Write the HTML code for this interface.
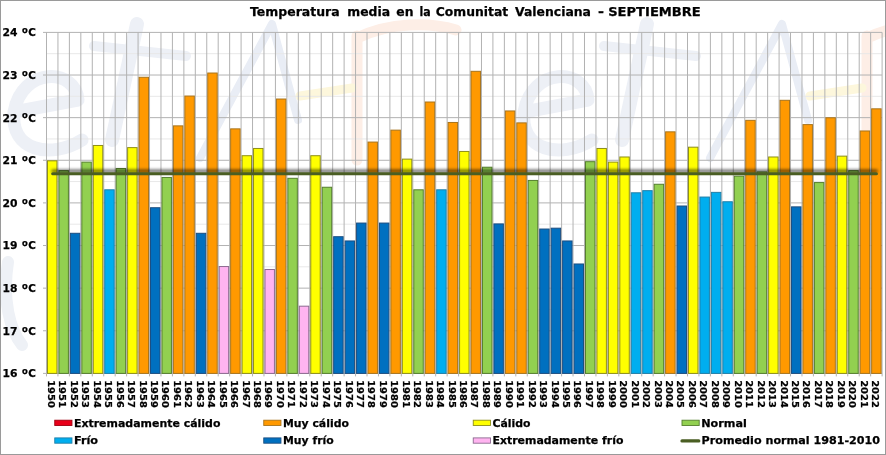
<!DOCTYPE html>
<html lang="es"><head><meta charset="utf-8"><title>Temperatura media en la Comunitat Valenciana - SEPTIEMBRE</title>
<style>html,body{margin:0;padding:0;background:#fff}svg{display:block}text{font-family:"DejaVu Sans","Liberation Sans",sans-serif;font-weight:bold;fill:#000;stroke:#000;stroke-width:0.25px}</style></head><body>
<svg width="886" height="455" viewBox="0 0 886 455">
<defs><filter id="sh" filterUnits="userSpaceOnUse" x="30" y="150" width="870" height="50"><feGaussianBlur stdDeviation="1.4"/></filter></defs>
<rect x="0" y="0" width="886" height="455" fill="#fff"/>
<defs><g id="wm" fill="none" stroke-linecap="round" stroke-linejoin="round"><path d="M14 112 L78 100 C76 68 22 66 14 112 C10 150 50 160 82 140" stroke="#edf0f6" stroke-width="13"/><path d="M137 24 L112 140" stroke="#edf0f6" stroke-width="14"/><path d="M94 46 L186 56" stroke="#edf0f6" stroke-width="10"/><path d="M200 158 L272 24 L298 120" stroke="#e9edf5" stroke-width="8"/><path d="M357 36 L357 160 M357 38 C390 22 430 22 456 30" stroke="#fdeee6" stroke-width="11"/><path d="M300 96 L352 88" stroke="#fdf7dc" stroke-width="9"/></g></defs><use href="#wm"/><use href="#wm" x="510"/><path d="M8 262 C2 300 10 330 22 345" fill="none" stroke="#eef1f6" stroke-width="12" stroke-linecap="round"/>
<rect x="0.5" y="0.5" width="885" height="454" fill="none" stroke="#9a9a9a" stroke-width="1"/>
<g><line x1="46.50" x2="882.10" y1="352.09" y2="352.09" stroke="#e8e8e8" stroke-width="1"/><line x1="46.50" x2="882.10" y1="309.46" y2="309.46" stroke="#e8e8e8" stroke-width="1"/><line x1="46.50" x2="882.10" y1="266.84" y2="266.84" stroke="#e8e8e8" stroke-width="1"/><line x1="46.50" x2="882.10" y1="224.21" y2="224.21" stroke="#e8e8e8" stroke-width="1"/><line x1="46.50" x2="882.10" y1="181.59" y2="181.59" stroke="#e8e8e8" stroke-width="1"/><line x1="46.50" x2="882.10" y1="138.96" y2="138.96" stroke="#e8e8e8" stroke-width="1"/><line x1="46.50" x2="882.10" y1="96.34" y2="96.34" stroke="#e8e8e8" stroke-width="1"/><line x1="46.50" x2="882.10" y1="53.71" y2="53.71" stroke="#e8e8e8" stroke-width="1"/><line x1="46.50" x2="46.50" y1="32.40" y2="376.40" stroke="#b2b2b2" stroke-width="1"/><line x1="57.95" x2="57.95" y1="32.40" y2="376.40" stroke="#b2b2b2" stroke-width="1"/><line x1="69.39" x2="69.39" y1="32.40" y2="376.40" stroke="#b2b2b2" stroke-width="1"/><line x1="80.84" x2="80.84" y1="32.40" y2="376.40" stroke="#b2b2b2" stroke-width="1"/><line x1="92.29" x2="92.29" y1="32.40" y2="376.40" stroke="#b2b2b2" stroke-width="1"/><line x1="103.73" x2="103.73" y1="32.40" y2="376.40" stroke="#b2b2b2" stroke-width="1"/><line x1="115.18" x2="115.18" y1="32.40" y2="376.40" stroke="#b2b2b2" stroke-width="1"/><line x1="126.63" x2="126.63" y1="32.40" y2="376.40" stroke="#b2b2b2" stroke-width="1"/><line x1="138.07" x2="138.07" y1="32.40" y2="376.40" stroke="#b2b2b2" stroke-width="1"/><line x1="149.52" x2="149.52" y1="32.40" y2="376.40" stroke="#b2b2b2" stroke-width="1"/><line x1="160.97" x2="160.97" y1="32.40" y2="376.40" stroke="#b2b2b2" stroke-width="1"/><line x1="172.41" x2="172.41" y1="32.40" y2="376.40" stroke="#b2b2b2" stroke-width="1"/><line x1="183.86" x2="183.86" y1="32.40" y2="376.40" stroke="#b2b2b2" stroke-width="1"/><line x1="195.31" x2="195.31" y1="32.40" y2="376.40" stroke="#b2b2b2" stroke-width="1"/><line x1="206.75" x2="206.75" y1="32.40" y2="376.40" stroke="#b2b2b2" stroke-width="1"/><line x1="218.20" x2="218.20" y1="32.40" y2="376.40" stroke="#b2b2b2" stroke-width="1"/><line x1="229.65" x2="229.65" y1="32.40" y2="376.40" stroke="#b2b2b2" stroke-width="1"/><line x1="241.09" x2="241.09" y1="32.40" y2="376.40" stroke="#b2b2b2" stroke-width="1"/><line x1="252.54" x2="252.54" y1="32.40" y2="376.40" stroke="#b2b2b2" stroke-width="1"/><line x1="263.98" x2="263.98" y1="32.40" y2="376.40" stroke="#b2b2b2" stroke-width="1"/><line x1="275.43" x2="275.43" y1="32.40" y2="376.40" stroke="#b2b2b2" stroke-width="1"/><line x1="286.88" x2="286.88" y1="32.40" y2="376.40" stroke="#b2b2b2" stroke-width="1"/><line x1="298.32" x2="298.32" y1="32.40" y2="376.40" stroke="#b2b2b2" stroke-width="1"/><line x1="309.77" x2="309.77" y1="32.40" y2="376.40" stroke="#b2b2b2" stroke-width="1"/><line x1="321.22" x2="321.22" y1="32.40" y2="376.40" stroke="#b2b2b2" stroke-width="1"/><line x1="332.66" x2="332.66" y1="32.40" y2="376.40" stroke="#b2b2b2" stroke-width="1"/><line x1="344.11" x2="344.11" y1="32.40" y2="376.40" stroke="#b2b2b2" stroke-width="1"/><line x1="355.56" x2="355.56" y1="32.40" y2="376.40" stroke="#b2b2b2" stroke-width="1"/><line x1="367.00" x2="367.00" y1="32.40" y2="376.40" stroke="#b2b2b2" stroke-width="1"/><line x1="378.45" x2="378.45" y1="32.40" y2="376.40" stroke="#b2b2b2" stroke-width="1"/><line x1="389.90" x2="389.90" y1="32.40" y2="376.40" stroke="#b2b2b2" stroke-width="1"/><line x1="401.34" x2="401.34" y1="32.40" y2="376.40" stroke="#b2b2b2" stroke-width="1"/><line x1="412.79" x2="412.79" y1="32.40" y2="376.40" stroke="#b2b2b2" stroke-width="1"/><line x1="424.24" x2="424.24" y1="32.40" y2="376.40" stroke="#b2b2b2" stroke-width="1"/><line x1="435.68" x2="435.68" y1="32.40" y2="376.40" stroke="#b2b2b2" stroke-width="1"/><line x1="447.13" x2="447.13" y1="32.40" y2="376.40" stroke="#b2b2b2" stroke-width="1"/><line x1="458.58" x2="458.58" y1="32.40" y2="376.40" stroke="#b2b2b2" stroke-width="1"/><line x1="470.02" x2="470.02" y1="32.40" y2="376.40" stroke="#b2b2b2" stroke-width="1"/><line x1="481.47" x2="481.47" y1="32.40" y2="376.40" stroke="#b2b2b2" stroke-width="1"/><line x1="492.92" x2="492.92" y1="32.40" y2="376.40" stroke="#b2b2b2" stroke-width="1"/><line x1="504.36" x2="504.36" y1="32.40" y2="376.40" stroke="#b2b2b2" stroke-width="1"/><line x1="515.81" x2="515.81" y1="32.40" y2="376.40" stroke="#b2b2b2" stroke-width="1"/><line x1="527.26" x2="527.26" y1="32.40" y2="376.40" stroke="#b2b2b2" stroke-width="1"/><line x1="538.70" x2="538.70" y1="32.40" y2="376.40" stroke="#b2b2b2" stroke-width="1"/><line x1="550.15" x2="550.15" y1="32.40" y2="376.40" stroke="#b2b2b2" stroke-width="1"/><line x1="561.60" x2="561.60" y1="32.40" y2="376.40" stroke="#b2b2b2" stroke-width="1"/><line x1="573.04" x2="573.04" y1="32.40" y2="376.40" stroke="#b2b2b2" stroke-width="1"/><line x1="584.49" x2="584.49" y1="32.40" y2="376.40" stroke="#b2b2b2" stroke-width="1"/><line x1="595.94" x2="595.94" y1="32.40" y2="376.40" stroke="#b2b2b2" stroke-width="1"/><line x1="607.38" x2="607.38" y1="32.40" y2="376.40" stroke="#b2b2b2" stroke-width="1"/><line x1="618.83" x2="618.83" y1="32.40" y2="376.40" stroke="#b2b2b2" stroke-width="1"/><line x1="630.28" x2="630.28" y1="32.40" y2="376.40" stroke="#b2b2b2" stroke-width="1"/><line x1="641.72" x2="641.72" y1="32.40" y2="376.40" stroke="#b2b2b2" stroke-width="1"/><line x1="653.17" x2="653.17" y1="32.40" y2="376.40" stroke="#b2b2b2" stroke-width="1"/><line x1="664.62" x2="664.62" y1="32.40" y2="376.40" stroke="#b2b2b2" stroke-width="1"/><line x1="676.06" x2="676.06" y1="32.40" y2="376.40" stroke="#b2b2b2" stroke-width="1"/><line x1="687.51" x2="687.51" y1="32.40" y2="376.40" stroke="#b2b2b2" stroke-width="1"/><line x1="698.95" x2="698.95" y1="32.40" y2="376.40" stroke="#b2b2b2" stroke-width="1"/><line x1="710.40" x2="710.40" y1="32.40" y2="376.40" stroke="#b2b2b2" stroke-width="1"/><line x1="721.85" x2="721.85" y1="32.40" y2="376.40" stroke="#b2b2b2" stroke-width="1"/><line x1="733.29" x2="733.29" y1="32.40" y2="376.40" stroke="#b2b2b2" stroke-width="1"/><line x1="744.74" x2="744.74" y1="32.40" y2="376.40" stroke="#b2b2b2" stroke-width="1"/><line x1="756.19" x2="756.19" y1="32.40" y2="376.40" stroke="#b2b2b2" stroke-width="1"/><line x1="767.63" x2="767.63" y1="32.40" y2="376.40" stroke="#b2b2b2" stroke-width="1"/><line x1="779.08" x2="779.08" y1="32.40" y2="376.40" stroke="#b2b2b2" stroke-width="1"/><line x1="790.53" x2="790.53" y1="32.40" y2="376.40" stroke="#b2b2b2" stroke-width="1"/><line x1="801.97" x2="801.97" y1="32.40" y2="376.40" stroke="#b2b2b2" stroke-width="1"/><line x1="813.42" x2="813.42" y1="32.40" y2="376.40" stroke="#b2b2b2" stroke-width="1"/><line x1="824.87" x2="824.87" y1="32.40" y2="376.40" stroke="#b2b2b2" stroke-width="1"/><line x1="836.31" x2="836.31" y1="32.40" y2="376.40" stroke="#b2b2b2" stroke-width="1"/><line x1="847.76" x2="847.76" y1="32.40" y2="376.40" stroke="#b2b2b2" stroke-width="1"/><line x1="859.21" x2="859.21" y1="32.40" y2="376.40" stroke="#b2b2b2" stroke-width="1"/><line x1="870.65" x2="870.65" y1="32.40" y2="376.40" stroke="#b2b2b2" stroke-width="1"/><line x1="882.10" x2="882.10" y1="32.40" y2="376.40" stroke="#b2b2b2" stroke-width="1"/><line x1="43.00" x2="882.10" y1="373.40" y2="373.40" stroke="#b2b2b2" stroke-width="1"/><line x1="43.00" x2="882.10" y1="330.77" y2="330.77" stroke="#b2b2b2" stroke-width="1"/><line x1="43.00" x2="882.10" y1="288.15" y2="288.15" stroke="#b2b2b2" stroke-width="1"/><line x1="43.00" x2="882.10" y1="245.52" y2="245.52" stroke="#b2b2b2" stroke-width="1"/><line x1="43.00" x2="882.10" y1="202.90" y2="202.90" stroke="#b2b2b2" stroke-width="1"/><line x1="43.00" x2="882.10" y1="160.27" y2="160.27" stroke="#b2b2b2" stroke-width="1"/><line x1="43.00" x2="882.10" y1="117.65" y2="117.65" stroke="#b2b2b2" stroke-width="1"/><line x1="43.00" x2="882.10" y1="75.02" y2="75.02" stroke="#b2b2b2" stroke-width="1"/><line x1="43.00" x2="882.10" y1="32.40" y2="32.40" stroke="#b2b2b2" stroke-width="1"/></g>
<g><rect x="47.50" y="160.83" width="9.45" height="212.57" fill="#FFFF00" stroke="#8E8E18" stroke-width="1"/><rect x="58.95" y="170.63" width="9.45" height="202.77" fill="#92D050" stroke="#557F2E" stroke-width="1"/><rect x="70.39" y="233.29" width="9.45" height="140.11" fill="#0070C0" stroke="#1C4E80" stroke-width="1"/><rect x="81.84" y="162.11" width="9.45" height="211.29" fill="#92D050" stroke="#557F2E" stroke-width="1"/><rect x="93.29" y="145.48" width="9.45" height="227.92" fill="#FFFF00" stroke="#8E8E18" stroke-width="1"/><rect x="104.73" y="189.81" width="9.45" height="183.59" fill="#00AEEF" stroke="#1F7FA8" stroke-width="1"/><rect x="116.18" y="168.50" width="9.45" height="204.90" fill="#92D050" stroke="#557F2E" stroke-width="1"/><rect x="127.63" y="147.61" width="9.45" height="225.79" fill="#FFFF00" stroke="#8E8E18" stroke-width="1"/><rect x="139.07" y="77.28" width="9.45" height="296.12" fill="#FF9900" stroke="#A8741C" stroke-width="1"/><rect x="150.52" y="207.72" width="9.45" height="165.68" fill="#0070C0" stroke="#1C4E80" stroke-width="1"/><rect x="161.97" y="177.45" width="9.45" height="195.95" fill="#92D050" stroke="#557F2E" stroke-width="1"/><rect x="173.41" y="125.87" width="9.45" height="247.53" fill="#FF9900" stroke="#A8741C" stroke-width="1"/><rect x="184.86" y="96.04" width="9.45" height="277.36" fill="#FF9900" stroke="#A8741C" stroke-width="1"/><rect x="196.31" y="233.29" width="9.45" height="140.11" fill="#0070C0" stroke="#1C4E80" stroke-width="1"/><rect x="207.75" y="73.02" width="9.45" height="300.38" fill="#FF9900" stroke="#A8741C" stroke-width="1"/><rect x="219.20" y="266.54" width="9.45" height="106.86" fill="#FFB4F0" stroke="#8C6A90" stroke-width="1"/><rect x="230.65" y="128.86" width="9.45" height="244.54" fill="#FF9900" stroke="#A8741C" stroke-width="1"/><rect x="242.09" y="155.71" width="9.45" height="217.69" fill="#FFFF00" stroke="#8E8E18" stroke-width="1"/><rect x="253.54" y="148.47" width="9.45" height="224.93" fill="#FFFF00" stroke="#8E8E18" stroke-width="1"/><rect x="264.98" y="269.52" width="9.45" height="103.88" fill="#FFB4F0" stroke="#8C6A90" stroke-width="1"/><rect x="276.43" y="99.02" width="9.45" height="274.38" fill="#FF9900" stroke="#A8741C" stroke-width="1"/><rect x="287.88" y="178.30" width="9.45" height="195.10" fill="#92D050" stroke="#557F2E" stroke-width="1"/><rect x="299.32" y="306.18" width="9.45" height="67.22" fill="#FFB4F0" stroke="#8C6A90" stroke-width="1"/><rect x="310.77" y="155.71" width="9.45" height="217.69" fill="#FFFF00" stroke="#8E8E18" stroke-width="1"/><rect x="322.22" y="187.25" width="9.45" height="186.14" fill="#92D050" stroke="#557F2E" stroke-width="1"/><rect x="333.66" y="236.70" width="9.45" height="136.70" fill="#0070C0" stroke="#1C4E80" stroke-width="1"/><rect x="345.11" y="240.96" width="9.45" height="132.44" fill="#0070C0" stroke="#1C4E80" stroke-width="1"/><rect x="356.56" y="223.06" width="9.45" height="150.34" fill="#0070C0" stroke="#1C4E80" stroke-width="1"/><rect x="368.00" y="142.07" width="9.45" height="231.33" fill="#FF9900" stroke="#A8741C" stroke-width="1"/><rect x="379.45" y="223.06" width="9.45" height="150.34" fill="#0070C0" stroke="#1C4E80" stroke-width="1"/><rect x="390.90" y="130.14" width="9.45" height="243.26" fill="#FF9900" stroke="#A8741C" stroke-width="1"/><rect x="402.34" y="159.12" width="9.45" height="214.28" fill="#FFFF00" stroke="#8E8E18" stroke-width="1"/><rect x="413.79" y="189.81" width="9.45" height="183.59" fill="#92D050" stroke="#557F2E" stroke-width="1"/><rect x="425.24" y="102.01" width="9.45" height="271.39" fill="#FF9900" stroke="#A8741C" stroke-width="1"/><rect x="436.68" y="189.81" width="9.45" height="183.59" fill="#00AEEF" stroke="#1F7FA8" stroke-width="1"/><rect x="448.13" y="122.47" width="9.45" height="250.93" fill="#FF9900" stroke="#A8741C" stroke-width="1"/><rect x="459.58" y="151.45" width="9.45" height="221.95" fill="#FFFF00" stroke="#8E8E18" stroke-width="1"/><rect x="471.02" y="71.32" width="9.45" height="302.08" fill="#FF9900" stroke="#A8741C" stroke-width="1"/><rect x="482.47" y="167.22" width="9.45" height="206.18" fill="#92D050" stroke="#557F2E" stroke-width="1"/><rect x="493.92" y="223.91" width="9.45" height="149.49" fill="#0070C0" stroke="#1C4E80" stroke-width="1"/><rect x="505.36" y="110.96" width="9.45" height="262.44" fill="#FF9900" stroke="#A8741C" stroke-width="1"/><rect x="516.81" y="122.89" width="9.45" height="250.51" fill="#FF9900" stroke="#A8741C" stroke-width="1"/><rect x="528.26" y="180.43" width="9.45" height="192.97" fill="#92D050" stroke="#557F2E" stroke-width="1"/><rect x="539.70" y="229.03" width="9.45" height="144.37" fill="#0070C0" stroke="#1C4E80" stroke-width="1"/><rect x="551.15" y="228.18" width="9.45" height="145.22" fill="#0070C0" stroke="#1C4E80" stroke-width="1"/><rect x="562.60" y="240.96" width="9.45" height="132.44" fill="#0070C0" stroke="#1C4E80" stroke-width="1"/><rect x="574.04" y="263.98" width="9.45" height="109.42" fill="#0070C0" stroke="#1C4E80" stroke-width="1"/><rect x="585.49" y="161.68" width="9.45" height="211.72" fill="#92D050" stroke="#557F2E" stroke-width="1"/><rect x="596.94" y="148.47" width="9.45" height="224.93" fill="#FFFF00" stroke="#8E8E18" stroke-width="1"/><rect x="608.38" y="162.11" width="9.45" height="211.29" fill="#FFFF00" stroke="#8E8E18" stroke-width="1"/><rect x="619.83" y="156.99" width="9.45" height="216.41" fill="#FFFF00" stroke="#8E8E18" stroke-width="1"/><rect x="631.28" y="192.80" width="9.45" height="180.60" fill="#00AEEF" stroke="#1F7FA8" stroke-width="1"/><rect x="642.72" y="190.66" width="9.45" height="182.74" fill="#00AEEF" stroke="#1F7FA8" stroke-width="1"/><rect x="654.17" y="184.27" width="9.45" height="189.13" fill="#92D050" stroke="#557F2E" stroke-width="1"/><rect x="665.62" y="131.84" width="9.45" height="241.56" fill="#FF9900" stroke="#A8741C" stroke-width="1"/><rect x="677.06" y="206.01" width="9.45" height="167.39" fill="#0070C0" stroke="#1C4E80" stroke-width="1"/><rect x="688.51" y="147.19" width="9.45" height="226.21" fill="#FFFF00" stroke="#8E8E18" stroke-width="1"/><rect x="699.95" y="197.06" width="9.45" height="176.34" fill="#00AEEF" stroke="#1F7FA8" stroke-width="1"/><rect x="711.40" y="192.37" width="9.45" height="181.03" fill="#00AEEF" stroke="#1F7FA8" stroke-width="1"/><rect x="722.85" y="201.75" width="9.45" height="171.65" fill="#00AEEF" stroke="#1F7FA8" stroke-width="1"/><rect x="734.29" y="176.17" width="9.45" height="197.23" fill="#92D050" stroke="#557F2E" stroke-width="1"/><rect x="745.74" y="120.33" width="9.45" height="253.07" fill="#FF9900" stroke="#A8741C" stroke-width="1"/><rect x="757.19" y="171.91" width="9.45" height="201.49" fill="#92D050" stroke="#557F2E" stroke-width="1"/><rect x="768.63" y="156.99" width="9.45" height="216.41" fill="#FFFF00" stroke="#8E8E18" stroke-width="1"/><rect x="780.08" y="100.30" width="9.45" height="273.10" fill="#FF9900" stroke="#A8741C" stroke-width="1"/><rect x="791.53" y="206.86" width="9.45" height="166.54" fill="#0070C0" stroke="#1C4E80" stroke-width="1"/><rect x="802.97" y="124.60" width="9.45" height="248.80" fill="#FF9900" stroke="#A8741C" stroke-width="1"/><rect x="814.42" y="182.57" width="9.45" height="190.83" fill="#92D050" stroke="#557F2E" stroke-width="1"/><rect x="825.87" y="117.78" width="9.45" height="255.62" fill="#FF9900" stroke="#A8741C" stroke-width="1"/><rect x="837.31" y="156.14" width="9.45" height="217.26" fill="#FFFF00" stroke="#8E8E18" stroke-width="1"/><rect x="848.76" y="170.63" width="9.45" height="202.77" fill="#92D050" stroke="#557F2E" stroke-width="1"/><rect x="860.21" y="130.99" width="9.45" height="242.41" fill="#FF9900" stroke="#A8741C" stroke-width="1"/><rect x="871.65" y="108.83" width="9.45" height="264.57" fill="#FF9900" stroke="#A8741C" stroke-width="1"/></g>
<line x1="52.72" x2="876.38" y1="171.10" y2="171.10" stroke="#000" stroke-opacity="0.6" stroke-width="3" stroke-linecap="round" filter="url(#sh)"/>
<line x1="52.72" x2="876.38" y1="173.70" y2="173.70" stroke="#4A5E23" stroke-width="3.1" stroke-linecap="round"/>
<text y="15.8" font-size="12.4"><tspan x="250.0" textLength="89.6" lengthAdjust="spacingAndGlyphs">Temperatura</tspan> <tspan x="347.3" textLength="42.8" lengthAdjust="spacingAndGlyphs">media</tspan> <tspan x="396.3" textLength="17.2" lengthAdjust="spacingAndGlyphs">en</tspan> <tspan x="419.4" textLength="11.2" lengthAdjust="spacingAndGlyphs">la</tspan> <tspan x="435.8" textLength="72.4" lengthAdjust="spacingAndGlyphs">Comunitat</tspan> <tspan x="515.0" textLength="76.0" lengthAdjust="spacingAndGlyphs">Valenciana</tspan> <tspan x="598.0" textLength="6.0" lengthAdjust="spacingAndGlyphs">-</tspan> <tspan x="608.2" textLength="92.6" lengthAdjust="spacingAndGlyphs">SEPTIEMBRE</tspan></text>
<text y="377.30" font-size="11.2"><tspan x="2.4" textLength="15" lengthAdjust="spacingAndGlyphs">16</tspan> <tspan x="22.0" dy="2.9" style="font-family:'Liberation Sans',sans-serif" font-size="15.5">º</tspan><tspan x="28.2" dy="-2.9" textLength="7.6" lengthAdjust="spacingAndGlyphs">C</tspan></text>
<text y="334.67" font-size="11.2"><tspan x="2.4" textLength="15" lengthAdjust="spacingAndGlyphs">17</tspan> <tspan x="22.0" dy="2.9" style="font-family:'Liberation Sans',sans-serif" font-size="15.5">º</tspan><tspan x="28.2" dy="-2.9" textLength="7.6" lengthAdjust="spacingAndGlyphs">C</tspan></text>
<text y="292.05" font-size="11.2"><tspan x="2.4" textLength="15" lengthAdjust="spacingAndGlyphs">18</tspan> <tspan x="22.0" dy="2.9" style="font-family:'Liberation Sans',sans-serif" font-size="15.5">º</tspan><tspan x="28.2" dy="-2.9" textLength="7.6" lengthAdjust="spacingAndGlyphs">C</tspan></text>
<text y="249.42" font-size="11.2"><tspan x="2.4" textLength="15" lengthAdjust="spacingAndGlyphs">19</tspan> <tspan x="22.0" dy="2.9" style="font-family:'Liberation Sans',sans-serif" font-size="15.5">º</tspan><tspan x="28.2" dy="-2.9" textLength="7.6" lengthAdjust="spacingAndGlyphs">C</tspan></text>
<text y="206.80" font-size="11.2"><tspan x="2.4" textLength="15" lengthAdjust="spacingAndGlyphs">20</tspan> <tspan x="22.0" dy="2.9" style="font-family:'Liberation Sans',sans-serif" font-size="15.5">º</tspan><tspan x="28.2" dy="-2.9" textLength="7.6" lengthAdjust="spacingAndGlyphs">C</tspan></text>
<text y="164.17" font-size="11.2"><tspan x="2.4" textLength="15" lengthAdjust="spacingAndGlyphs">21</tspan> <tspan x="22.0" dy="2.9" style="font-family:'Liberation Sans',sans-serif" font-size="15.5">º</tspan><tspan x="28.2" dy="-2.9" textLength="7.6" lengthAdjust="spacingAndGlyphs">C</tspan></text>
<text y="121.55" font-size="11.2"><tspan x="2.4" textLength="15" lengthAdjust="spacingAndGlyphs">22</tspan> <tspan x="22.0" dy="2.9" style="font-family:'Liberation Sans',sans-serif" font-size="15.5">º</tspan><tspan x="28.2" dy="-2.9" textLength="7.6" lengthAdjust="spacingAndGlyphs">C</tspan></text>
<text y="78.92" font-size="11.2"><tspan x="2.4" textLength="15" lengthAdjust="spacingAndGlyphs">23</tspan> <tspan x="22.0" dy="2.9" style="font-family:'Liberation Sans',sans-serif" font-size="15.5">º</tspan><tspan x="28.2" dy="-2.9" textLength="7.6" lengthAdjust="spacingAndGlyphs">C</tspan></text>
<text y="36.30" font-size="11.2"><tspan x="2.4" textLength="15" lengthAdjust="spacingAndGlyphs">24</tspan> <tspan x="22.0" dy="2.9" style="font-family:'Liberation Sans',sans-serif" font-size="15.5">º</tspan><tspan x="28.2" dy="-2.9" textLength="7.6" lengthAdjust="spacingAndGlyphs">C</tspan></text>
<g><text transform="translate(47.92 380.2) rotate(90)" font-size="9.3" textLength="27.6" lengthAdjust="spacingAndGlyphs">1950</text><text transform="translate(59.37 380.2) rotate(90)" font-size="9.3" textLength="27.6" lengthAdjust="spacingAndGlyphs">1951</text><text transform="translate(70.82 380.2) rotate(90)" font-size="9.3" textLength="27.6" lengthAdjust="spacingAndGlyphs">1952</text><text transform="translate(82.26 380.2) rotate(90)" font-size="9.3" textLength="27.6" lengthAdjust="spacingAndGlyphs">1953</text><text transform="translate(93.71 380.2) rotate(90)" font-size="9.3" textLength="27.6" lengthAdjust="spacingAndGlyphs">1954</text><text transform="translate(105.16 380.2) rotate(90)" font-size="9.3" textLength="27.6" lengthAdjust="spacingAndGlyphs">1955</text><text transform="translate(116.60 380.2) rotate(90)" font-size="9.3" textLength="27.6" lengthAdjust="spacingAndGlyphs">1956</text><text transform="translate(128.05 380.2) rotate(90)" font-size="9.3" textLength="27.6" lengthAdjust="spacingAndGlyphs">1957</text><text transform="translate(139.50 380.2) rotate(90)" font-size="9.3" textLength="27.6" lengthAdjust="spacingAndGlyphs">1958</text><text transform="translate(150.94 380.2) rotate(90)" font-size="9.3" textLength="27.6" lengthAdjust="spacingAndGlyphs">1959</text><text transform="translate(162.39 380.2) rotate(90)" font-size="9.3" textLength="27.6" lengthAdjust="spacingAndGlyphs">1960</text><text transform="translate(173.84 380.2) rotate(90)" font-size="9.3" textLength="27.6" lengthAdjust="spacingAndGlyphs">1961</text><text transform="translate(185.28 380.2) rotate(90)" font-size="9.3" textLength="27.6" lengthAdjust="spacingAndGlyphs">1962</text><text transform="translate(196.73 380.2) rotate(90)" font-size="9.3" textLength="27.6" lengthAdjust="spacingAndGlyphs">1963</text><text transform="translate(208.18 380.2) rotate(90)" font-size="9.3" textLength="27.6" lengthAdjust="spacingAndGlyphs">1964</text><text transform="translate(219.62 380.2) rotate(90)" font-size="9.3" textLength="27.6" lengthAdjust="spacingAndGlyphs">1965</text><text transform="translate(231.07 380.2) rotate(90)" font-size="9.3" textLength="27.6" lengthAdjust="spacingAndGlyphs">1966</text><text transform="translate(242.52 380.2) rotate(90)" font-size="9.3" textLength="27.6" lengthAdjust="spacingAndGlyphs">1967</text><text transform="translate(253.96 380.2) rotate(90)" font-size="9.3" textLength="27.6" lengthAdjust="spacingAndGlyphs">1968</text><text transform="translate(265.41 380.2) rotate(90)" font-size="9.3" textLength="27.6" lengthAdjust="spacingAndGlyphs">1969</text><text transform="translate(276.85 380.2) rotate(90)" font-size="9.3" textLength="27.6" lengthAdjust="spacingAndGlyphs">1970</text><text transform="translate(288.30 380.2) rotate(90)" font-size="9.3" textLength="27.6" lengthAdjust="spacingAndGlyphs">1971</text><text transform="translate(299.75 380.2) rotate(90)" font-size="9.3" textLength="27.6" lengthAdjust="spacingAndGlyphs">1972</text><text transform="translate(311.19 380.2) rotate(90)" font-size="9.3" textLength="27.6" lengthAdjust="spacingAndGlyphs">1973</text><text transform="translate(322.64 380.2) rotate(90)" font-size="9.3" textLength="27.6" lengthAdjust="spacingAndGlyphs">1974</text><text transform="translate(334.09 380.2) rotate(90)" font-size="9.3" textLength="27.6" lengthAdjust="spacingAndGlyphs">1975</text><text transform="translate(345.53 380.2) rotate(90)" font-size="9.3" textLength="27.6" lengthAdjust="spacingAndGlyphs">1976</text><text transform="translate(356.98 380.2) rotate(90)" font-size="9.3" textLength="27.6" lengthAdjust="spacingAndGlyphs">1977</text><text transform="translate(368.43 380.2) rotate(90)" font-size="9.3" textLength="27.6" lengthAdjust="spacingAndGlyphs">1978</text><text transform="translate(379.87 380.2) rotate(90)" font-size="9.3" textLength="27.6" lengthAdjust="spacingAndGlyphs">1979</text><text transform="translate(391.32 380.2) rotate(90)" font-size="9.3" textLength="27.6" lengthAdjust="spacingAndGlyphs">1980</text><text transform="translate(402.77 380.2) rotate(90)" font-size="9.3" textLength="27.6" lengthAdjust="spacingAndGlyphs">1981</text><text transform="translate(414.21 380.2) rotate(90)" font-size="9.3" textLength="27.6" lengthAdjust="spacingAndGlyphs">1982</text><text transform="translate(425.66 380.2) rotate(90)" font-size="9.3" textLength="27.6" lengthAdjust="spacingAndGlyphs">1983</text><text transform="translate(437.11 380.2) rotate(90)" font-size="9.3" textLength="27.6" lengthAdjust="spacingAndGlyphs">1984</text><text transform="translate(448.55 380.2) rotate(90)" font-size="9.3" textLength="27.6" lengthAdjust="spacingAndGlyphs">1985</text><text transform="translate(460.00 380.2) rotate(90)" font-size="9.3" textLength="27.6" lengthAdjust="spacingAndGlyphs">1986</text><text transform="translate(471.45 380.2) rotate(90)" font-size="9.3" textLength="27.6" lengthAdjust="spacingAndGlyphs">1987</text><text transform="translate(482.89 380.2) rotate(90)" font-size="9.3" textLength="27.6" lengthAdjust="spacingAndGlyphs">1988</text><text transform="translate(494.34 380.2) rotate(90)" font-size="9.3" textLength="27.6" lengthAdjust="spacingAndGlyphs">1989</text><text transform="translate(505.79 380.2) rotate(90)" font-size="9.3" textLength="27.6" lengthAdjust="spacingAndGlyphs">1990</text><text transform="translate(517.23 380.2) rotate(90)" font-size="9.3" textLength="27.6" lengthAdjust="spacingAndGlyphs">1991</text><text transform="translate(528.68 380.2) rotate(90)" font-size="9.3" textLength="27.6" lengthAdjust="spacingAndGlyphs">1992</text><text transform="translate(540.13 380.2) rotate(90)" font-size="9.3" textLength="27.6" lengthAdjust="spacingAndGlyphs">1993</text><text transform="translate(551.57 380.2) rotate(90)" font-size="9.3" textLength="27.6" lengthAdjust="spacingAndGlyphs">1994</text><text transform="translate(563.02 380.2) rotate(90)" font-size="9.3" textLength="27.6" lengthAdjust="spacingAndGlyphs">1995</text><text transform="translate(574.47 380.2) rotate(90)" font-size="9.3" textLength="27.6" lengthAdjust="spacingAndGlyphs">1996</text><text transform="translate(585.91 380.2) rotate(90)" font-size="9.3" textLength="27.6" lengthAdjust="spacingAndGlyphs">1997</text><text transform="translate(597.36 380.2) rotate(90)" font-size="9.3" textLength="27.6" lengthAdjust="spacingAndGlyphs">1998</text><text transform="translate(608.81 380.2) rotate(90)" font-size="9.3" textLength="27.6" lengthAdjust="spacingAndGlyphs">1999</text><text transform="translate(620.25 380.2) rotate(90)" font-size="9.3" textLength="27.6" lengthAdjust="spacingAndGlyphs">2000</text><text transform="translate(631.70 380.2) rotate(90)" font-size="9.3" textLength="27.6" lengthAdjust="spacingAndGlyphs">2001</text><text transform="translate(643.15 380.2) rotate(90)" font-size="9.3" textLength="27.6" lengthAdjust="spacingAndGlyphs">2002</text><text transform="translate(654.59 380.2) rotate(90)" font-size="9.3" textLength="27.6" lengthAdjust="spacingAndGlyphs">2003</text><text transform="translate(666.04 380.2) rotate(90)" font-size="9.3" textLength="27.6" lengthAdjust="spacingAndGlyphs">2004</text><text transform="translate(677.48 380.2) rotate(90)" font-size="9.3" textLength="27.6" lengthAdjust="spacingAndGlyphs">2005</text><text transform="translate(688.93 380.2) rotate(90)" font-size="9.3" textLength="27.6" lengthAdjust="spacingAndGlyphs">2006</text><text transform="translate(700.38 380.2) rotate(90)" font-size="9.3" textLength="27.6" lengthAdjust="spacingAndGlyphs">2007</text><text transform="translate(711.82 380.2) rotate(90)" font-size="9.3" textLength="27.6" lengthAdjust="spacingAndGlyphs">2008</text><text transform="translate(723.27 380.2) rotate(90)" font-size="9.3" textLength="27.6" lengthAdjust="spacingAndGlyphs">2009</text><text transform="translate(734.72 380.2) rotate(90)" font-size="9.3" textLength="27.6" lengthAdjust="spacingAndGlyphs">2010</text><text transform="translate(746.16 380.2) rotate(90)" font-size="9.3" textLength="27.6" lengthAdjust="spacingAndGlyphs">2011</text><text transform="translate(757.61 380.2) rotate(90)" font-size="9.3" textLength="27.6" lengthAdjust="spacingAndGlyphs">2012</text><text transform="translate(769.06 380.2) rotate(90)" font-size="9.3" textLength="27.6" lengthAdjust="spacingAndGlyphs">2013</text><text transform="translate(780.50 380.2) rotate(90)" font-size="9.3" textLength="27.6" lengthAdjust="spacingAndGlyphs">2014</text><text transform="translate(791.95 380.2) rotate(90)" font-size="9.3" textLength="27.6" lengthAdjust="spacingAndGlyphs">2015</text><text transform="translate(803.40 380.2) rotate(90)" font-size="9.3" textLength="27.6" lengthAdjust="spacingAndGlyphs">2016</text><text transform="translate(814.84 380.2) rotate(90)" font-size="9.3" textLength="27.6" lengthAdjust="spacingAndGlyphs">2017</text><text transform="translate(826.29 380.2) rotate(90)" font-size="9.3" textLength="27.6" lengthAdjust="spacingAndGlyphs">2018</text><text transform="translate(837.74 380.2) rotate(90)" font-size="9.3" textLength="27.6" lengthAdjust="spacingAndGlyphs">2019</text><text transform="translate(849.18 380.2) rotate(90)" font-size="9.3" textLength="27.6" lengthAdjust="spacingAndGlyphs">2020</text><text transform="translate(860.63 380.2) rotate(90)" font-size="9.3" textLength="27.6" lengthAdjust="spacingAndGlyphs">2021</text><text transform="translate(872.08 380.2) rotate(90)" font-size="9.3" textLength="27.6" lengthAdjust="spacingAndGlyphs">2022</text></g>
<rect x="54.75" y="420.20" width="17.2" height="5.3" fill="#E8001A" stroke="#A00010" stroke-width="0.9"/>
<text x="73.95" y="426.60" font-size="11" textLength="146.5" lengthAdjust="spacingAndGlyphs">Extremadamente cálido</text>
<rect x="263.75" y="420.20" width="17.2" height="5.3" fill="#FF9900" stroke="#A8741C" stroke-width="0.9"/>
<text x="282.95" y="426.60" font-size="11" textLength="66" lengthAdjust="spacingAndGlyphs">Muy cálido</text>
<rect x="473.25" y="420.20" width="17.2" height="5.3" fill="#FFFF00" stroke="#8E8E18" stroke-width="0.9"/>
<text x="492.45" y="426.60" font-size="11" textLength="38" lengthAdjust="spacingAndGlyphs">Cálido</text>
<rect x="682.00" y="420.20" width="17.2" height="5.3" fill="#92D050" stroke="#557F2E" stroke-width="0.9"/>
<text x="701.20" y="426.60" font-size="11" textLength="45.6" lengthAdjust="spacingAndGlyphs">Normal</text>
<rect x="54.75" y="437.90" width="17.2" height="5.3" fill="#00AEEF" stroke="#1F7FA8" stroke-width="0.9"/>
<text x="73.95" y="444.20" font-size="11" textLength="24.2" lengthAdjust="spacingAndGlyphs">Frío</text>
<rect x="263.75" y="437.90" width="17.2" height="5.3" fill="#0070C0" stroke="#1C4E80" stroke-width="0.9"/>
<text x="282.95" y="444.20" font-size="11" textLength="50.8" lengthAdjust="spacingAndGlyphs">Muy frío</text>
<rect x="473.25" y="437.90" width="17.2" height="5.3" fill="#FFB4F0" stroke="#8C6A90" stroke-width="0.9"/>
<text x="492.45" y="444.20" font-size="11" textLength="131" lengthAdjust="spacingAndGlyphs">Extremadamente frío</text>
<line x1="682" x2="698.8" y1="440.9" y2="440.9" stroke="#4A5E23" stroke-width="3.2" stroke-linecap="round"/>
<text x="701.6" y="444.2" font-size="11" textLength="178.5" lengthAdjust="spacingAndGlyphs">Promedio normal 1981-2010</text>
</svg></body></html>
